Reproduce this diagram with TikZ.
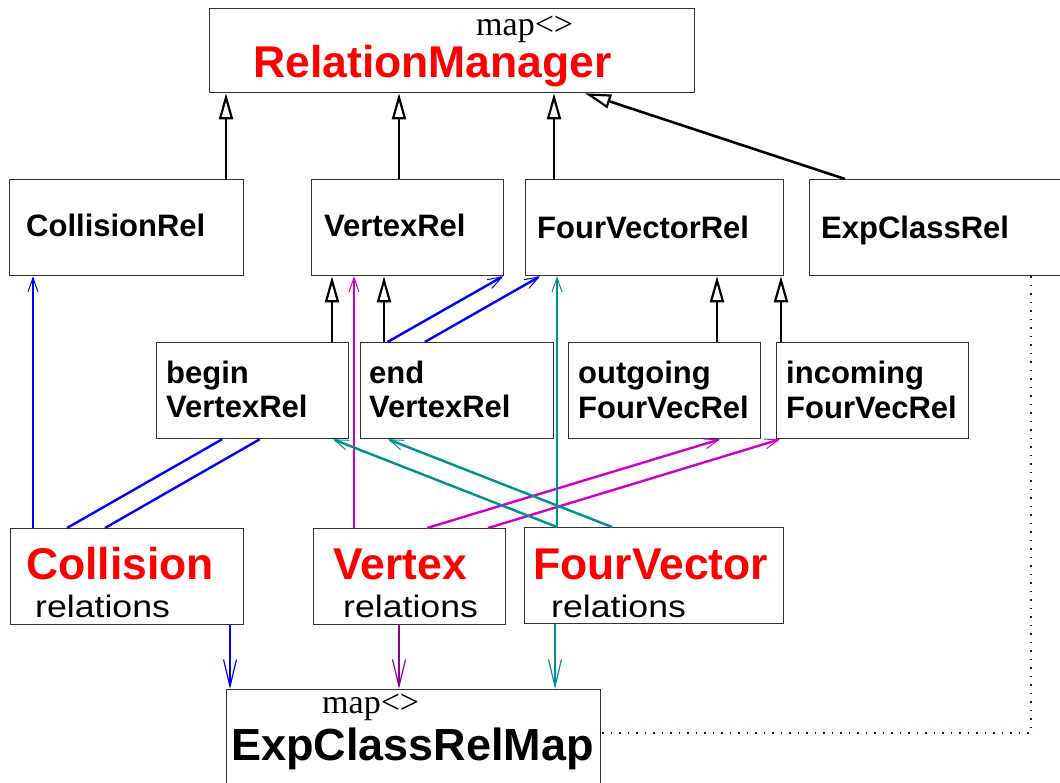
\documentclass[tikz,border=0pt]{standalone}
\usepackage{fontspec}
\setmainfont{Liberation Serif}
\newfontfamily\sansf{Liberation Sans}
\newfontfamily\relf[FakeStretch=1.15]{Liberation Sans}
\usetikzlibrary{arrows.meta}
\definecolor{cred}{RGB}{255,0,0}
\definecolor{cblue}{RGB}{0,0,255}
\definecolor{cmag}{RGB}{205,0,205}
\definecolor{cteal}{RGB}{0,145,145}
\definecolor{cpurple}{RGB}{140,0,140}
\tikzset{
  box/.style={draw=black!80, line width=1.3pt, fill=white, inner sep=0pt, anchor=north west},
  lbl/.style={anchor=base west, inner sep=0pt, font=\sansf\bfseries\fontsize{31}{34}\selectfont},
  title/.style={anchor=base west, inner sep=0pt, text=cred, font=\sansf\bfseries\fontsize{44.5}{50}\selectfont},
  bigname/.style={anchor=base west, inner sep=0pt, font=\sansf\bfseries\fontsize{45}{50}\selectfont},
  reltext/.style={anchor=base west, inner sep=0pt, font=\relf\fontsize{31}{34}\selectfont},
  tmpl/.style={anchor=base west, inner sep=0pt, font=\fontsize{34}{38}\selectfont},
  inherit/.style={draw=black, line width=2.6pt, -{Triangle[length=26pt,width=14pt,fill=white,line width=2.2pt]}},
  uses/.style={line width=2.4pt, -{Straight Barb[length=14pt,width=10pt,line width=1pt]}},
  usesplain/.style={line width=2.4pt},
  down/.style={line width=1.8pt, -{Straight Barb[length=27pt,width=13pt,line width=1.2pt]}},
  dotline/.style={cblue, line width=1.5pt, dash pattern=on 1.5pt off 7pt}
}
\begin{document}
\begin{tikzpicture}[x=1pt,y=-1pt]
\useasboundingbox (0,0) rectangle (1060,782);

% class boxes
\node[box, minimum width=485pt, minimum height=84pt] (rm) at (209,8) {};
\node[box, minimum width=234pt, minimum height=96pt] (colrel) at (9,179) {};
\node[box, minimum width=192pt, minimum height=96pt] (vrel) at (311,179) {};
\node[box, minimum width=258pt, minimum height=96pt] (fvrel) at (525,179) {};
\node[box, minimum width=270pt, minimum height=96pt] (ecrel) at (809,179) {};
\node[box, minimum width=192pt, minimum height=96pt] (bvr) at (156,342) {};
\node[box, minimum width=193pt, minimum height=96pt] (evr) at (360,342) {};
\node[box, minimum width=192pt, minimum height=96pt] (ofv) at (568,342) {};
\node[box, minimum width=192pt, minimum height=96pt] (ifv) at (776,342) {};
\node[box, minimum width=233pt, minimum height=96pt] (col) at (10,528) {};
\node[box, minimum width=192pt, minimum height=96pt] (vtx) at (313,528) {};
\node[box, minimum width=259pt, minimum height=96pt] (fv) at (524,527) {};
\node[box, minimum width=374pt, minimum height=120pt] (ecmap) at (226,689) {};

% labels
\node[tmpl] (rmT) at (476,35) {map<>};
\node[title] (rmN) at (253,77) {RelationManager};
\node[lbl] (colrelN) at (26,236) {CollisionRel};
\node[lbl] (vrelN) at (324,236) {VertexRel};
\node[lbl] (fvrelN) at (537,238) {FourVectorRel};
\node[lbl] (ecrelN) at (821,238) {ExpClassRel};
\node[lbl] (bvrA) at (166,383) {begin};
\node[lbl] (bvrB) at (166,417) {VertexRel};
\node[lbl] (evrA) at (369,383) {end};
\node[lbl] (evrB) at (369,417) {VertexRel};
\node[lbl] (ofvA) at (578,383) {outgoing};
\node[lbl] (ofvB) at (578,418) {FourVecRel};
\node[lbl] (ifvA) at (786,383) {incoming};
\node[lbl] (ifvB) at (786,418) {FourVecRel};
\node[title] (colN) at (26,579) {Collision};
\node[reltext] (colR) at (35,617) {relations};
\node[title] (vtxN) at (333,579) {Vertex};
\node[reltext] (vtxR) at (343,617) {relations};
\node[title] (fvN) at (533,579) {FourVector};
\node[reltext] (fvR) at (551,617) {relations};
\node[tmpl] (ecmapT) at (322,713) {map<>};
\node[bigname] (ecmapN) at (231,760) {ExpClassRelMap};

% inheritance
\draw[inherit] (colrel.north -| 226,0) -- (rm.south -| 226,0);
\draw[inherit] (vrel.north -| 399,0) -- (rm.south -| 399,0);
\draw[inherit] (fvrel.north -| 554,0) -- (rm.south -| 554,0);
\draw[inherit] (ecrel.north -| 845,0) -- (rm.south -| 585,0);
\draw[inherit] (bvr.north -| 332,0) -- (vrel.south -| 332,0);
\draw[inherit] (evr.north -| 384,0) -- (vrel.south -| 384,0);
\draw[inherit] (ofv.north -| 717,0) -- (fvrel.south -| 717,0);
\draw[inherit] (ifv.north -| 781,0) -- (fvrel.south -| 781,0);

% Collision relations
\draw[uses, cblue] (col.north -| 33,0) -- (colrel.south -| 33,0);
\draw[usesplain, cblue] (col.north -| 67,0) -- (bvr.south -| 222.1,0);
\draw[uses, cblue] (evr.north -| 387.5,0) -- (vrel.south -| 503,0);
\draw[usesplain, cblue] (col.north -| 105,0) -- (bvr.south -| 259.7,0);
\draw[uses, cblue] (evr.north -| 424.8,0) -- (fvrel.south -| 540,0);

% Vertex relations
\draw[uses, cmag] (vtx.north -| 354,0) -- (vrel.south -| 354,0);
\draw[uses, cmag] (vtx.north -| 427,0) -- (ofv.south -| 720,0);
\draw[uses, cmag] (vtx.north -| 488,0) -- (ifv.south -| 780,0);

% FourVector relations
\draw[uses, cteal] (fv.north -| 557,0) -- (fvrel.south -| 557,0);
\draw[uses, cteal] (fv.north -| 557,0) -- (bvr.south -| 333,0);
\draw[uses, cteal] (fv.north -| 612,0) -- (evr.south -| 388,0);

% into the map
\draw[down, cblue] (col.south -| 230,0) -- (ecmap.north -| 230,0);
\draw[down, cpurple] (vtx.south -| 399,0) -- (ecmap.north -| 399,0);
\draw[down, cteal] (fv.south -| 555,0) -- (ecmap.north -| 555,0);

% ExpClassRel held by the map
\coordinate (bend) at (1031,733);
\draw[dotline] (ecrel.south -| bend) -- (bend) -- (ecmap.east |- bend);
\end{tikzpicture}
\end{document}
